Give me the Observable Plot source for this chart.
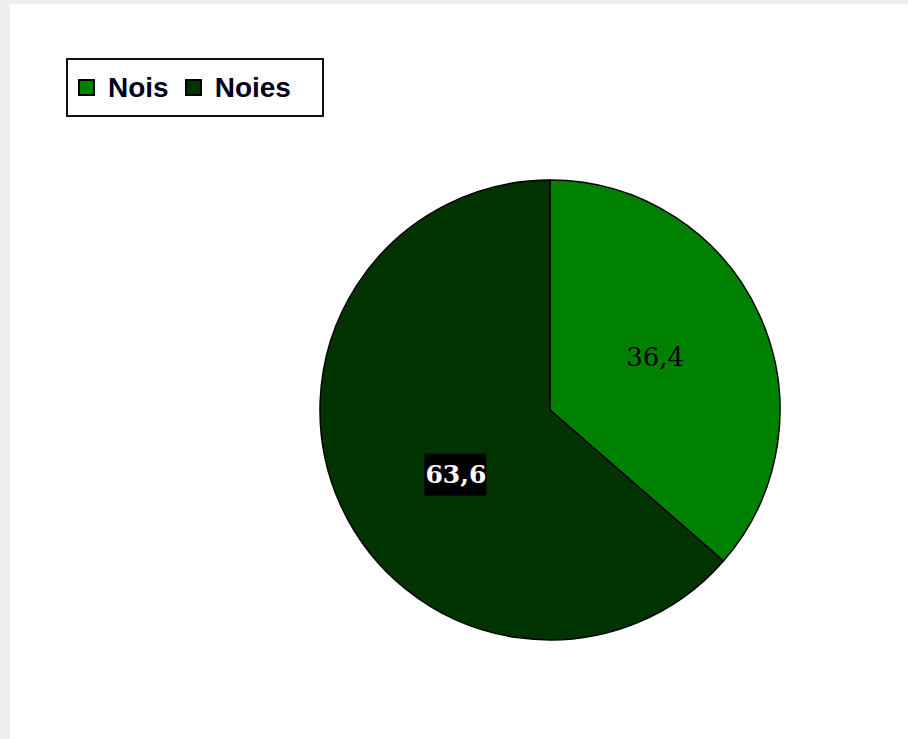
<!DOCTYPE html>
<html>
<head>
<meta charset="utf-8">
<script src="https://cdn.jsdelivr.net/npm/d3@7"></script>
<script src="https://cdn.jsdelivr.net/npm/@observablehq/plot@0.6"></script>
<style>
  html, body { margin: 0; padding: 0; background: #efeeec; }
  #wrap { position: absolute; left: 10px; top: 4px; width: 898px; height: 735px; background: #ffffff; overflow: hidden; }
  #legend { position: absolute; left: 56px; top: 54px; width: 254px; height: 55px; border: 2px solid #111; background: #fff;
            display: flex; align-items: center; font-family: "Liberation Sans", Arial, sans-serif; font-weight: bold; font-size: 28px; color: #00001a; }
  .item { display: flex; align-items: center; }
  .sw { width: 13px; height: 13px; border: 2px solid #000; margin-right: 13px; }
  #chart { position: absolute; left: 0; top: 0; }
</style>
</head>
<body>
<div id="wrap">
  <div id="chart"></div>
  <div id="legend"></div>
</div>
<script>
const categories = ["Nois", "Noies"];
const values = [36.4, 63.6];
const valueLabels = ["36,4", "63,6"];
const colors = ["#008000", "#003300"];

const data = categories.map((c, i) => ({category: c, value: values[i], label: valueLabels[i]}));
const arcs = d3.pie().sort(null).value(d => d.value)(data);

// label positions in data units (unit circle), at half radius on slice mid-angle
const labelR = 0.5;
const labelData = arcs.map(a => {
  const mid = (a.startAngle + a.endAngle) / 2;
  return {x: labelR * Math.sin(mid), y: labelR * Math.cos(mid), label: a.data.label, category: a.data.category};
});
const lightLabels = labelData.filter(d => d.category === "Nois");
const darkLabels = labelData.filter(d => d.category === "Noies");

const color = d3.scaleOrdinal(categories, colors);

const pieMark = (index, scales) => {
  const cx = scales.x(0), cy = scales.y(0), R = scales.x(1) - scales.x(0);
  const arc = d3.arc().innerRadius(0).outerRadius(R);
  const g = d3.create("svg:g").attr("transform", `translate(${cx},${cy})`);
  g.selectAll("path").data(arcs).join("path")
    .attr("d", arc)
    .attr("fill", d => color(d.data.category))
    .attr("stroke", "#000")
    .attr("stroke-width", 1.5)
    .attr("stroke-linejoin", "round");
  return g.node();
};

const darkDx = 10, darkDy = 17;
const boxMark = (index, scales) => {
  const g = d3.create("svg:g");
  darkLabels.forEach(d => {
    const px = scales.x(d.x) + darkDx, py = scales.y(d.y) + darkDy;
    g.append("rect").attr("x", px - 31).attr("y", py - 21).attr("width", 62).attr("height", 42).attr("fill", "#000");
  });
  return g.node();
};

const chart = Plot.plot({
  width: 898,
  height: 735,
  marginLeft: 310,
  marginRight: 128,
  marginTop: 176,
  marginBottom: 99,
  x: {domain: [-1, 1], axis: null},
  y: {domain: [-1, 1], axis: null},
  style: {background: "transparent"},
  marks: [
    pieMark,
    boxMark,
    Plot.text(lightLabels, {
      x: "x", y: "y", text: "label", dy: -5,
      fill: "#000", fontSize: 26, fontFamily: "DejaVu Serif"
    }),
    Plot.text(darkLabels, {
      x: "x", y: "y", text: "label", dx: darkDx, dy: darkDy,
      fill: "#fff", fontWeight: "bold", fontSize: 25, fontFamily: "DejaVu Serif"
    })
  ]
});
document.getElementById("chart").appendChild(chart);

const legend = d3.select("#legend");
categories.forEach((c, i) => {
  const item = legend.append("div").attr("class", "item")
    .style("margin-left", i === 0 ? "10px" : "16px");
  item.append("div").attr("class", "sw").style("background", colors[i]);
  item.append("span").text(c);
});
</script>
</body>
</html>
